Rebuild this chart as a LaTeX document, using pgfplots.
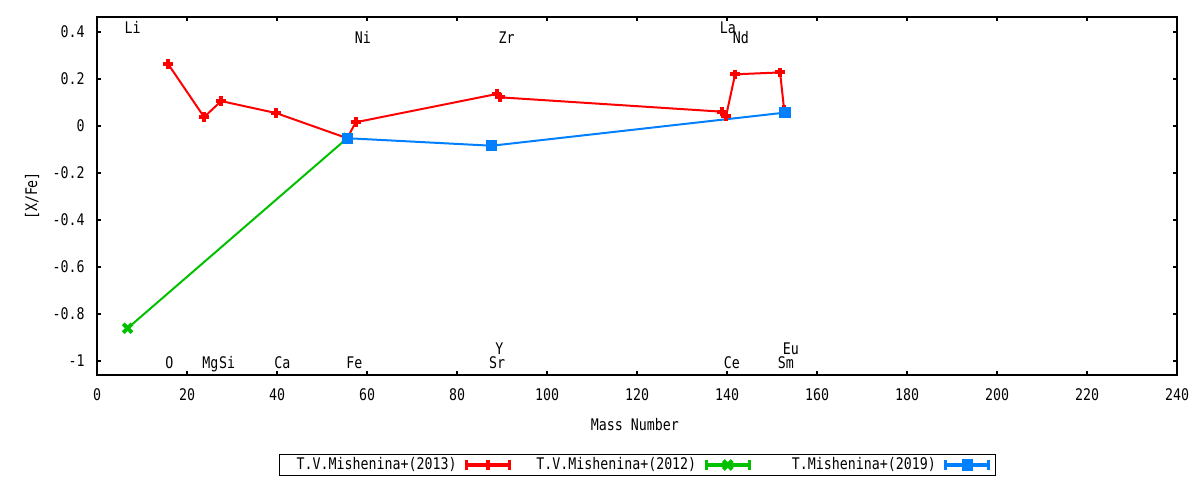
\documentclass[border=0pt]{standalone}
\usepackage{fontspec}
\setmainfont{DejaVu Sans Mono}[FakeStretch=0.83]
\usepackage{pgfplots}
\pgfplotsset{compat=1.18}
\definecolor{cred}{RGB}{255,0,0}
\definecolor{cgreen}{RGB}{0,192,0}
\definecolor{cblue}{RGB}{0,128,255}
\begin{document}
\begin{tikzpicture}[font=\fontsize{8pt}{9.6pt}\selectfont]
\useasboundingbox (0,0) rectangle (600pt,240pt);
\begin{axis}[
 at={(48.5pt,52.5pt)}, anchor=south west,
 scale only axis, width=540pt, height=179pt,
 xmin=0, xmax=240, ymin=-1.06, ymax=0.464,
 xtick={0,20,40,60,80,100,120,140,160,180,200,220,240},
 xticklabels={0,20,40,60,80,100,120,140,160,180,200,220,240},
 ytick={-1,-0.8,-0.6,-0.4,-0.2,0,0.2,0.4},
 yticklabels={-1,-0.8,-0.6,-0.4,-0.2,0,0.2,0.4},
 tick align=inside, major tick length=2.2pt,
 axis line style={line width=0.75pt},
 every tick/.style={black, line width=0.75pt},
 xticklabel style={anchor=base, yshift=-12.85pt, inner sep=0pt},
 yticklabel style={anchor=east, inner sep=0pt, xshift=-6pt},
 xlabel={Mass Number}, ylabel={[X/Fe]},
 xlabel style={at={(axis description cs:0.498,-0.1564)}, anchor=base, inner sep=0pt},
 ylabel style={at={(axis description cs:-0.0602,0.5)}, anchor=center, inner sep=0pt},
 legend columns=3, legend plot pos=right,
 legend style={at={(axis description cs:0.5005,-0.2514)}, anchor=center, draw=black, line width=0.6pt,
   inner xsep=2.5pt, inner ysep=1.3pt, column sep=0pt,
   /tikz/every even column/.append style={column sep=6.5pt}, nodes={inner sep=0pt}},
 legend image code/.code={
   \path[draw=none, fill=none] (0pt,-3pt) rectangle (26.5pt,3pt);
   \draw[#1, mark=none, line width=1.6pt] (5pt,0pt) -- (26.5pt,0pt);
   \draw[#1, mark=none, line width=1.6pt] (5pt,-2.4pt) -- (5pt,2.4pt) (26.5pt,-2.4pt) -- (26.5pt,2.4pt);
   \draw[#1, only marks] plot coordinates {(15.75pt,0pt)};
 },
]
\addplot[cred, line width=1pt, mark=+, mark size=2.4pt, mark options={line width=2pt, solid}] table {
x y
15.8 0.264
23.8 0.038
27.6 0.106
39.8 0.055
55.6 -0.052
57.5 0.016
88.8 0.136
89.6 0.122
138.8 0.061
139.8 0.043
141.8 0.220
151.8 0.228
152.7 0.068
};
\addlegendentry{\makebox[86pt][r]{T.V.Mishenina+(2013)}}
\addplot[cgreen, line width=1pt, mark=x, mark size=3.1pt, mark options={line width=2pt, solid}] table {
x y
6.8 -0.861
55.6 -0.052
};
\addlegendentry{\makebox[86pt][r]{T.V.Mishenina+(2012)}}
\addplot[cblue, line width=1pt, mark=square*, mark size=2.3pt, mark options={solid}] table {
x y
55.6 -0.052
87.7 -0.084
152.9 0.057
};
\addlegendentry{\makebox[86pt][r]{T.Mishenina+(2019)}}
\node[anchor=base, inner sep=0pt] at (axis cs:7.9,0.394) {Li};
\node[anchor=base, inner sep=0pt] at (axis cs:59.1,0.352) {Ni};
\node[anchor=base, inner sep=0pt] at (axis cs:91.0,0.352) {Zr};
\node[anchor=base, inner sep=0pt] at (axis cs:140.2,0.394) {La};
\node[anchor=base, inner sep=0pt] at (axis cs:143.1,0.352) {Nd};
\node[anchor=base, inner sep=0pt] at (axis cs:16.1,-1.034) {O};
\node[anchor=base, inner sep=0pt] at (axis cs:25.2,-1.034) {Mg};
\node[anchor=base, inner sep=0pt] at (axis cs:28.9,-1.034) {Si};
\node[anchor=base, inner sep=0pt] at (axis cs:41.2,-1.034) {Ca};
\node[anchor=base, inner sep=0pt] at (axis cs:57.2,-1.034) {Fe};
\node[anchor=base, inner sep=0pt] at (axis cs:88.9,-1.034) {Sr};
\node[anchor=base, inner sep=0pt] at (axis cs:89.4,-0.974) {Y};
\node[anchor=base, inner sep=0pt] at (axis cs:141.1,-1.034) {Ce};
\node[anchor=base, inner sep=0pt] at (axis cs:153.1,-1.034) {Sm};
\node[anchor=base, inner sep=0pt] at (axis cs:154.2,-0.974) {Eu};
\end{axis}
\end{tikzpicture}
\end{document}
